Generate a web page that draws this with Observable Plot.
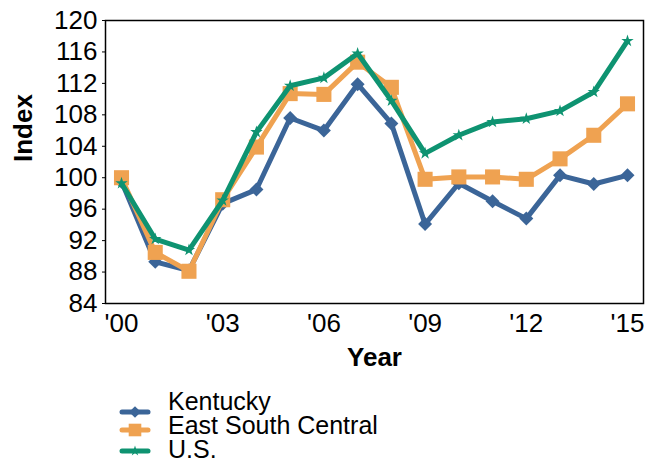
<!DOCTYPE html>
<html>
<head>
<meta charset="utf-8">
<script src="https://cdn.jsdelivr.net/npm/d3@7"></script>
<script src="https://cdn.jsdelivr.net/npm/@observablehq/plot@0.6"></script>
<style>
  body { margin: 0; background: #fff; font-family: "Liberation Sans", Arial, sans-serif; }
  #wrap { position: relative; width: 657px; height: 463px; overflow: hidden; }
  #legend { position: absolute; left: 0; top: 380px; }
</style>
</head>
<body>
<div id="wrap"><div id="chart"></div><svg id="legend" width="657" height="83"></svg></div>
<script>
const years = [2000,2001,2002,2003,2004,2005,2006,2007,2008,2009,2010,2011,2012,2013,2014,2015];
const kentucky = [99.5,89.3,88.2,96.7,98.5,107.6,106.0,111.9,106.9,94.1,99.3,97.0,94.8,100.3,99.2,100.3];
const eastSouthCentral = [100.0,90.5,88.1,97.2,103.9,110.7,110.6,114.7,111.5,99.8,100.1,100.1,99.8,102.4,105.4,109.4];
const us = [99.3,92.2,90.8,97.1,105.8,111.7,112.7,115.8,109.8,103.1,105.4,107.1,107.5,108.5,110.9,117.4];
const seriesNames = ["Kentucky", "East South Central", "U.S."];
const yTicks = [84,88,92,96,100,104,108,112,116,120];
const xTicks = [2000,2003,2006,2009,2012,2015];

const colors = ["#3b6598", "#efa251", "#0e9371"];
const symbols = ["diamond2", "square", "star"];
const radii = [6.3, 8.5, 3.9];
const d3symbols = [d3.symbolDiamond2, d3.symbolSquare, d3.symbolStar];

const values = [kentucky, eastSouthCentral, us];
const data = [];
seriesNames.forEach((s, i) => years.forEach((y, j) => data.push({series: s, year: y, value: values[i][j]})));

const marks = [];
seriesNames.forEach((s, i) => {
  const d = data.filter(r => r.series === s);
  marks.push(Plot.line(d, {x: "year", y: "value", stroke: colors[i], strokeWidth: 5, strokeLinejoin: "miter", strokeLinecap: "butt"}));
  marks.push(Plot.dot(d, {x: "year", y: "value", fill: colors[i], stroke: "none", symbol: symbols[i], r: radii[i]}));
});

const chart = Plot.plot({
  width: 657,
  height: 380,
  marginLeft: 105,
  marginRight: 14,
  marginTop: 20,
  marginBottom: 77,
  insetLeft: 16,
  insetRight: 16,
  style: {fontFamily: "Liberation Sans, Arial, sans-serif", fontSize: "26px", color: "#000", background: "#fff"},
  x: {domain: [2000, 2015]},
  y: {domain: [84, 120]},
  marks: [
    Plot.axisY({ticks: yTicks, tickSize: 3, tickPadding: 5, tickFormat: d => String(d), label: null, fontSize: 26, stroke: "#000", strokeWidth: 1}),
    Plot.axisX({ticks: xTicks, tickSize: 0, tickPadding: 10, tickFormat: d => "'" + String(d).slice(2), label: null, fontSize: 26}),
    ...marks,
    Plot.frame({stroke: "#000", strokeWidth: 1.5}),
    Plot.text(["Year"], {frameAnchor: "bottom", dy: 62, text: d => d, fontWeight: "bold", fontSize: 26, fill: "#000"}),
    Plot.text(["Index"], {frameAnchor: "left", dx: -82, rotate: -90, text: d => d, fontWeight: "bold", fontSize: 26, fill: "#000"})
  ]
});
document.getElementById("chart").appendChild(chart);

// legend
const leg = d3.select("#legend");
const swatchY = [32, 50, 71];
const textY = [30, 54, 78];
seriesNames.forEach((s, i) => {
  leg.append("line").attr("x1", 122).attr("x2", 148).attr("y1", swatchY[i]).attr("y2", swatchY[i])
    .attr("stroke", colors[i]).attr("stroke-width", 5).attr("stroke-linecap", "round");
  leg.append("path").attr("transform", `translate(135,${swatchY[i]})`)
    .attr("d", d3.symbol(d3symbols[i], Math.PI * radii[i] * radii[i] * 0.7)()).attr("fill", colors[i]);
  leg.append("text").attr("x", 168).attr("y", textY[i]).attr("font-size", 25)
    .attr("font-family", "Liberation Sans, Arial, sans-serif").attr("fill", "#000").text(s);
});
</script>
</body>
</html>
